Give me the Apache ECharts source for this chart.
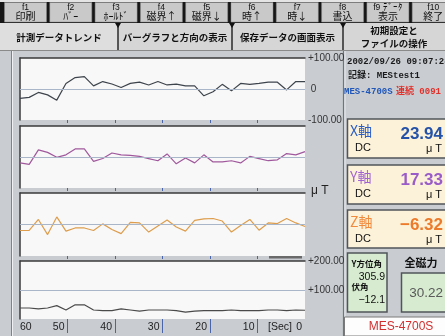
<!DOCTYPE html>
<html>
<head>
<meta charset="utf-8">
<script src="https://cdn.jsdelivr.net/npm/echarts@6/dist/echarts.min.js"></script>
<style>
  html, body { margin: 0; padding: 0; background: #c9cdd2; }
  #chart { width: 445px; height: 336px; }
</style>
</head>
<body>
<div id="chart"></div>
<script>
// Trend buffers, oldest sample first (roughly one sample every 2 s over the last 60 s), in μT
const xAxisField = [-30, -27, -11, -19, -36, 18, 37, 40, 10, 24, 16, 5, 18, 22, 13, 24, 13, 16, 10, 10, -22, -9, 15, -6, 18, 15, 18, 22, 22, -3, 24, 23.94];
const yAxisField = [-19, -24, 23, 15, -1, 7, 26, 26, -14, -5, 13, 7, 5, 2, -5, -12, 10, -22, -3, -19, 7, -16, -16, -12, -19, 2, -5, -12, -9, 11, 7, 17.33];
const zAxisField = [-19, -19, 16, -32, 24, -21, -11, -11, -19, 2, -16, -29, 7, 5, -24, -5, 14, -8, -21, 13, 18, 19, 11, -24, -3, 16, -18, 5, 3, 19, 5, -6.32];
const totalField = [38, 38, 35, 38, 46, 31, 49, 49, 31, 29, 29, 35, 31, 27, 31, 31, 31, 29, 24, 27, 29, 29, 29, 31, 29, 29, 29, 31, 31, 29, 31, 30.22];

// Elapsed-time scale of the trend window (seconds before now)
const timeSpan = [0, 60];
const timeTicks = [10, 20, 30, 40, 50];

// Vertical scales of the four trend panes
const fieldRange = [-100, 100];
const totalRange = [0, 200];
const fieldLabels = [-100, 0, 100];
const totalLabels = [100, 200];

// Direction readouts
const headingDeg = 305.9;
const dipDeg = -12.1;

// Function-key strip and tabs
const fKeyNums = ['f1', 'f2', 'f3', 'f4', 'f5', 'f6', 'f7', 'f8', 'f9 ﾃﾞｰﾀ', 'f10'];
const fKeyNames = ['印刷', 'ﾊﾞｰ', 'ﾎｰﾙﾄﾞ', '磁界↑', '磁界↓', '時↑', '時↓', '書込', '表示', '終了'];
const tabNames = ['計測データトレンド', 'バーグラフと方向の表示', '保存データの画面表示', '初期設定と\nファイルの操作'];

const stamp = '2002/09/26 09:07:28';
const recordName = 'MEStest1';
const modelName = 'MES-4700S';
const runCount = '0091';

const JP = '"Noto Sans CJK JP", sans-serif';
const SANS = '"Liberation Sans", Arial, sans-serif';
const MONO = '"Liberation Mono", "Noto Sans CJK JP", monospace';

const last = a => a[a.length - 1];
const fmtSigned = v => (v < 0 ? '\u2212' : '') + Math.abs(v).toFixed(2);
const fmtAxis = v => v > 0 ? '+' + v.toFixed(2) : (v === 0 ? ' 0' : v.toFixed(2));

// Pane layout (pixels)
const panes = [
  { top: 58, height: 62, data: xAxisField, color: '#3e444c', range: fieldRange, centre: 0, labels: fieldLabels },
  { top: 126, height: 62, data: yAxisField, color: '#a0589c', range: fieldRange, centre: 0, labels: null },
  { top: 193, height: 63, data: zAxisField, color: '#dd9d4c', range: fieldRange, centre: 0, labels: null },
  { top: 261, height: 58, data: totalField, color: '#4a4a4a', range: totalRange, centre: 100, labels: totalLabels }
];
const plotLeft = 20, plotWidth = 285;

const grid = [], xAxis = [], yAxis = [], series = [];
panes.forEach((p, i) => {
  const isLast = i === panes.length - 1;
  grid.push({ left: plotLeft, width: plotWidth, top: p.top, height: p.height, show: true,
    backgroundColor: '#f8f8f8', borderWidth: 0 });
  // sample axis, drawn as the dark upper edge of the pane
  xAxis.push({ type: 'category', gridIndex: i, position: 'top', boundaryGap: false,
    axisLine: { show: true, onZero: false, lineStyle: { color: '#3a3a3a', width: 1.5 } },
    axisTick: { show: false }, axisLabel: { show: false }, splitLine: { show: false } });
  // elapsed-time axis with the 10 s ticks
  xAxis.push({ type: 'value', gridIndex: i, position: 'bottom', min: timeSpan[0], max: timeSpan[1],
    interval: 10, inverse: true,
    axisLine: { show: false, onZero: false },
    axisTick: { show: true, customValues: timeTicks, length: isLast ? 14 : 3,
      lineStyle: { color: '#4a66aa', width: 1 } },
    axisLabel: { show: isLast, margin: 3, fontSize: 10.5, color: '#222', fontFamily: SANS,
      align: 'right', padding: [0, 3, 0, 0], alignMaxLabel: 'left', alignMinLabel: 'right',
      formatter: v => String(v) },
    splitLine: { show: false } });
  yAxis.push({ type: 'value', gridIndex: i, position: 'right', min: p.range[0], max: p.range[1], interval: 100,
    axisLine: { show: false, onZero: false }, axisTick: { show: false }, splitLine: { show: false },
    axisLabel: p.labels ? { show: true, customValues: p.labels, margin: 3, fontSize: 10,
      color: '#333', fontFamily: SANS, formatter: fmtAxis } : { show: false } });
  yAxis.push({ type: 'value', gridIndex: i, position: 'left', min: p.range[0], max: p.range[1],
    axisLine: { show: true, onZero: false, lineStyle: { color: '#3a3a3a', width: 1.5 } },
    axisTick: { show: false }, axisLabel: { show: false }, splitLine: { show: false } });
  series.push({ type: 'line', xAxisIndex: 2 * i, yAxisIndex: 2 * i, data: p.data,
    symbol: 'none', silent: true, lineStyle: { color: p.color, width: 1.2 },
    markLine: { silent: true, symbol: 'none', label: { show: false },
      lineStyle: { color: '#a9b5c9', width: 1, type: 'solid' }, data: [{ yAxis: p.centre }] } });
});

// ---- window chrome ----
const g = [];
const box = (x, y, w, h, fill, stroke, lw) => g.push({ type: 'rect', silent: true,
  shape: { x, y, width: w, height: h }, style: { fill, stroke: stroke || null, lineWidth: lw || 0 } });
const seg = (x1, y1, x2, y2, stroke, lw) => g.push({ type: 'line', silent: true,
  shape: { x1, y1, x2, y2 }, style: { stroke, lineWidth: lw || 1 } });
const txt = (x, y, text, o) => g.push({ type: 'text', x, y, silent: true,
  style: Object.assign({ text, fill: '#111', fontSize: 10, fontFamily: JP, align: 'left', verticalAlign: 'middle' }, o) });

// function keys
box(0, 0, 445, 2, '#e4e4e4');
box(0, 2, 445, 21, '#161616');
fKeyNums.forEach((k, i) => {
  const kx = 4.5 + i * 45.3;
  box(kx, 2.5, 42, 19.5, '#c9c9c9', '#8a8a8a', 0.5);
  txt(kx + 21, 7.5, k, { align: 'center', fontSize: 8.5, fontFamily: SANS });
  txt(kx + 21, 16.5, fKeyNames[i], { align: 'center', fontSize: 10 });
});

// tabs
const tabs = [[0, 118], [118, 114], [232, 111], [343, 102]];
tabs.forEach(([x, w], i) => {
  box(x, 23, w, 27, i === 0 ? '#dedede' : '#d6d6d6');
  const lines = tabNames[i].split('\n');
  if (lines.length === 1) {
    txt(x + w / 2, 37.5, lines[0], { align: 'center', fontSize: 9.5, fontWeight: 'bold' });
  } else {
    txt(x + w / 2, 30.5, lines[0], { align: 'center', fontSize: 9.5, fontWeight: 'bold' });
    txt(x + w / 2, 43.5, lines[1], { align: 'center', fontSize: 9.5, fontWeight: 'bold' });
  }
});
[118, 232, 343].forEach(x => {
  seg(x, 23, x, 50, '#2a2a2a', 1.5);
  g.push({ type: 'polygon', silent: true, shape: { points: [[x - 3, 23], [x + 3, 23], [x, 28]] }, style: { fill: '#111' } });
});
seg(0, 50.5, 445, 50.5, '#8a8a8a', 1);

// frame lines
seg(11.5, 51, 11.5, 336, '#7d838b', 1);
seg(12.5, 51, 12.5, 336, '#eef0f2', 1);
seg(343.5, 51, 343.5, 336, '#6f757c', 1.2);
seg(345, 51, 345, 336, '#e8eaec', 1);
box(269, 256, 33, 2.5, '#6a6a6a');

// unit labels of the trend area
txt(311, 191, 'μ T', { fontSize: 12, fontFamily: SANS, fill: '#222' });
txt(268, 327.5, '[Sec]', { fontSize: 10.5, fontFamily: SANS, fill: '#222' });

// status block
txt(347, 62, stamp, { fontFamily: MONO, fontWeight: 'bold', fontSize: 9, fill: '#1a1a1a' });
txt(348, 76, '記録: ' + recordName, { fontFamily: MONO, fontWeight: 'bold', fontSize: 9, fill: '#1a1a1a' });
g.push({ type: 'text', x: 344, y: 91.5, silent: true, style: {
  text: '{a|' + modelName + '} {b|連続 ' + runCount + '}', verticalAlign: 'middle',
  rich: { a: { fill: '#1f56b8', fontFamily: MONO, fontWeight: 'bold', fontSize: 9 },
          b: { fill: '#e2302a', fontFamily: MONO, fontWeight: 'bold', fontSize: 9 } } } });

// axis readouts
const readout = (y, h, label, value, labelColor, valueColor) => {
  box(347.5, y, 100, h, '#fcf2da', '#50555a', 1.5);
  txt(350, y + 12, label, { fill: labelColor, fontSize: 14 });
  txt(443, y + 15, fmtSigned(value), { fill: valueColor, fontSize: 17, fontWeight: 'bold', fontFamily: SANS, align: 'right' });
  txt(355, y + 29, 'DC', { fontSize: 11, fontFamily: SANS });
  txt(442, y + 30, 'μ T', { fontSize: 11, fontFamily: SANS, align: 'right' });
};
readout(119, 39, 'X軸', last(xAxisField), '#2d5fc4', '#2452a8');
readout(165, 39, 'Y軸', last(yAxisField), '#a064d0', '#9a5cc8');
readout(210, 38, 'Z軸', last(zAxisField), '#f08a3c', '#ec7a2a');

// direction and total field
box(347.5, 253, 39.5, 59, '#d6ebcf', '#50555a', 1.5);
txt(351.5, 264, 'Y方位角', { fontSize: 8.5, fontWeight: 'bold' });
txt(385, 277, headingDeg.toFixed(1), { fontSize: 10.5, fontFamily: SANS, align: 'right' });
txt(351.5, 287, '伏角', { fontSize: 8.5, fontWeight: 'bold' });
txt(385, 300, (dipDeg < 0 ? '\u2212' : '') + Math.abs(dipDeg).toFixed(1), { fontSize: 10.5, fontFamily: SANS, align: 'right' });
txt(421, 263, '全磁力', { fontSize: 11, fontWeight: 'bold', align: 'center' });
box(401.5, 273, 46, 39, '#d6ebcf', '#50555a', 1.5);
txt(443, 293, last(totalField).toFixed(2), { fontSize: 13.5, fontFamily: SANS, fill: '#5a5a5a', align: 'right' });
box(344.5, 317, 102, 19, '#fdfdfd', '#7a7a7a', 1);
txt(401, 326.5, modelName, { fontSize: 12, fontFamily: SANS, fill: '#d32f2f', align: 'center' });

const chart = echarts.init(document.getElementById('chart'), null, { renderer: 'canvas' });
chart.setOption({
  animation: false,
  backgroundColor: '#c9cdd2',
  grid, xAxis, yAxis, series,
  graphic: { elements: g }
});
</script>
</body>
</html>
